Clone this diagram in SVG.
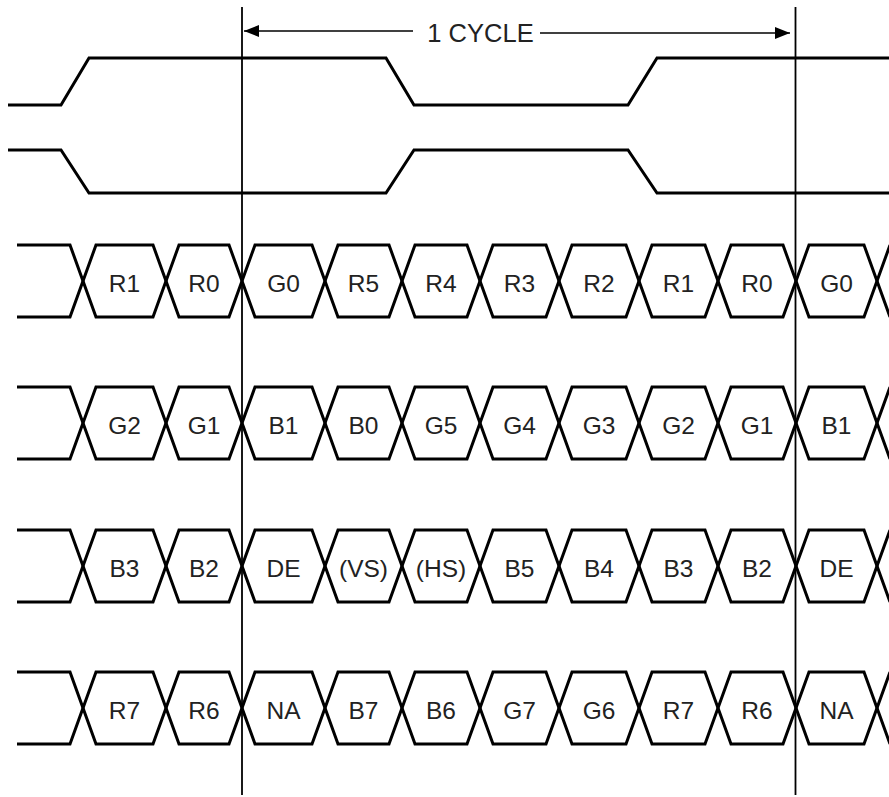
<svg xmlns="http://www.w3.org/2000/svg" width="889" height="797" viewBox="0 0 889 797">
<style>
.sig{fill:none;stroke:#000;stroke-width:3;stroke-linejoin:miter}
.ref{fill:none;stroke:#000;stroke-width:1.8}
.arr{fill:none;stroke:#000;stroke-width:1.5}
.lbl{font-family:"Liberation Sans",Arial,sans-serif;font-size:24.5px;fill:#222;text-anchor:middle}
.ttl{font-family:"Liberation Sans",Arial,sans-serif;font-size:25.5px;fill:#222;text-anchor:middle}
</style>
<defs>
<marker id="ah" markerWidth="16" markerHeight="12" refX="15" refY="6" orient="auto" markerUnits="userSpaceOnUse">
<path d="M0,0 L15,6 L0,12 Z" fill="#000"/>
</marker>
</defs>
<rect width="889" height="797" fill="#fff"/>

<g id="clk1"><path class="sig" d="M8,105 H61 L89,58 H386 L414,105 H628 L657,58 H889"/></g>
<g id="clk2"><path class="sig" d="M8,150 H61 L89,193 H386 L414,150 H628 L657,193 H889"/></g>

<g id="row1">
<path class="sig" d="M17,245 H70 L96,317 H153 L179,245 H229 L255,317 H312 L338,245 H389 L415,317 H467 L493,245 H546 L572,317 H626 L652,245 H705 L731,317 H783 L809,245 H864 L890,317"/>
<path class="sig" d="M17,317 H70 L96,245 H153 L179,317 H229 L255,245 H312 L338,317 H389 L415,245 H467 L493,317 H546 L572,245 H626 L652,317 H705 L731,245 H783 L809,317 H864 L890,245"/>
<text class="lbl" x="124.5" y="292">R1</text><text class="lbl" x="204" y="292">R0</text><text class="lbl" x="283.5" y="292">G0</text><text class="lbl" x="363.5" y="292">R5</text><text class="lbl" x="441" y="292">R4</text><text class="lbl" x="519.5" y="292">R3</text><text class="lbl" x="599" y="292">R2</text><text class="lbl" x="678.5" y="292">R1</text><text class="lbl" x="757" y="292">R0</text><text class="lbl" x="836.5" y="292">G0</text>
</g>

<g id="row2">
<path class="sig" d="M17,387 H70 L96,459 H153 L179,387 H229 L255,459 H312 L338,387 H389 L415,459 H467 L493,387 H546 L572,459 H626 L652,387 H705 L731,459 H783 L809,387 H864 L890,459"/>
<path class="sig" d="M17,459 H70 L96,387 H153 L179,459 H229 L255,387 H312 L338,459 H389 L415,387 H467 L493,459 H546 L572,387 H626 L652,459 H705 L731,387 H783 L809,459 H864 L890,387"/>
<text class="lbl" x="124.5" y="434">G2</text><text class="lbl" x="204" y="434">G1</text><text class="lbl" x="283.5" y="434">B1</text><text class="lbl" x="363.5" y="434">B0</text><text class="lbl" x="441" y="434">G5</text><text class="lbl" x="519.5" y="434">G4</text><text class="lbl" x="599" y="434">G3</text><text class="lbl" x="678.5" y="434">G2</text><text class="lbl" x="757" y="434">G1</text><text class="lbl" x="836.5" y="434">B1</text>
</g>

<g id="row3">
<path class="sig" d="M17,530 H70 L96,602 H153 L179,530 H229 L255,602 H312 L338,530 H389 L415,602 H467 L493,530 H546 L572,602 H626 L652,530 H705 L731,602 H783 L809,530 H864 L890,602"/>
<path class="sig" d="M17,602 H70 L96,530 H153 L179,602 H229 L255,530 H312 L338,602 H389 L415,530 H467 L493,602 H546 L572,530 H626 L652,602 H705 L731,530 H783 L809,602 H864 L890,530"/>
<text class="lbl" x="124.5" y="577">B3</text><text class="lbl" x="204" y="577">B2</text><text class="lbl" x="283.5" y="577">DE</text><text class="lbl" x="363.5" y="577">(VS)</text><text class="lbl" x="441" y="577">(HS)</text><text class="lbl" x="519.5" y="577">B5</text><text class="lbl" x="599" y="577">B4</text><text class="lbl" x="678.5" y="577">B3</text><text class="lbl" x="757" y="577">B2</text><text class="lbl" x="836.5" y="577">DE</text>
</g>

<g id="row4">
<path class="sig" d="M17,672 H70 L96,744 H153 L179,672 H229 L255,744 H312 L338,672 H389 L415,744 H467 L493,672 H546 L572,744 H626 L652,672 H705 L731,744 H783 L809,672 H864 L890,744"/>
<path class="sig" d="M17,744 H70 L96,672 H153 L179,744 H229 L255,672 H312 L338,744 H389 L415,672 H467 L493,744 H546 L572,672 H626 L652,744 H705 L731,672 H783 L809,744 H864 L890,672"/>
<text class="lbl" x="124.5" y="719">R7</text><text class="lbl" x="204" y="719">R6</text><text class="lbl" x="283.5" y="719">NA</text><text class="lbl" x="363.5" y="719">B7</text><text class="lbl" x="441" y="719">B6</text><text class="lbl" x="519.5" y="719">G7</text><text class="lbl" x="599" y="719">G6</text><text class="lbl" x="678.5" y="719">R7</text><text class="lbl" x="757" y="719">R6</text><text class="lbl" x="836.5" y="719">NA</text>
</g>

<g id="refs">
<line class="ref" x1="242" y1="7" x2="242" y2="795"/>
<line class="ref" x1="795.5" y1="7" x2="795.5" y2="795"/>
</g>

<g id="connectors">
<line class="arr" x1="413" y1="31" x2="244" y2="31" marker-end="url(#ah)"/>
<line class="arr" x1="540" y1="33" x2="790" y2="33" marker-end="url(#ah)"/>
</g>
<g id="cycle-label"><text class="ttl" x="480.5" y="42">1 CYCLE</text></g>
</svg>
